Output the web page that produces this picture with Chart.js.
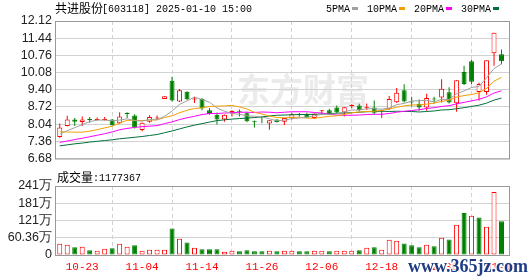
<!DOCTYPE html>
<html>
<head>
<meta charset="utf-8">
<script src="https://cdn.jsdelivr.net/npm/chart.js@4.4.1/dist/chart.umd.min.js"></script>
<style>
  body { margin: 0; background: #fff; }
  #wrap { position: relative; width: 530px; height: 276px; overflow: hidden; }
  canvas { position: absolute; left: 0; }
  #kline { top: 0; }
  #vol { top: 170px; }
</style>
</head>
<body>
<div id="wrap">
  <canvas id="kline" width="530" height="170"></canvas>
  <canvas id="vol" width="530" height="106"></canvas>
</div>
<script>
// 共进股份 daily bars, 2024-10-18 .. 2025-01-10
const dates = ['10-18','10-21','10-22','10-23','10-24','10-25','10-28','10-29','10-30','10-31',
  '11-01','11-04','11-05','11-06','11-07','11-08','11-11','11-12','11-13','11-14',
  '11-15','11-18','11-19','11-20','11-21','11-22','11-25','11-26','11-27','11-28',
  '11-29','12-02','12-03','12-04','12-05','12-06','12-09','12-10','12-11','12-12',
  '12-13','12-16','12-17','12-18','12-19','12-20','12-23','12-24','12-25','12-26',
  '12-27','12-30','12-31','01-02','01-03','01-06','01-07','01-08','01-09','01-10'];

const opens = [7.53,7.97,8.22,8.12,8.23,8.20,8.20,8.22,8.07,8.46,
  8.38,7.81,8.13,8.26,9.03,9.76,8.94,9.32,9.01,9.03,
  8.59,8.41,8.22,8.47,8.53,8.47,8.13,8.33,8.06,8.22,
  8.13,8.28,8.42,8.44,8.28,8.55,8.59,8.70,8.50,8.76,
  8.78,8.67,8.70,8.55,8.63,8.91,9.38,8.92,8.84,8.70,
  9.03,9.09,9.30,8.87,10.10,10.53,9.31,9.31,10.84,10.80];
const highs = [8.06,8.37,8.28,8.34,8.32,8.30,8.32,8.24,8.51,8.51,
  8.43,8.10,8.39,8.38,9.14,9.91,9.43,9.34,9.12,9.07,
  8.68,8.50,8.42,8.59,8.62,8.53,8.18,8.34,8.20,8.23,
  8.28,8.49,8.48,8.49,8.46,8.60,8.65,8.78,8.72,8.83,
  8.85,8.86,8.97,8.62,9.15,9.47,9.62,9.12,9.01,9.24,
  9.12,9.82,9.50,9.78,10.35,10.58,9.68,10.57,11.66,10.99];
const lows = [7.50,7.95,7.97,7.97,8.09,8.18,8.18,7.98,8.05,8.28,
  7.87,7.76,8.09,8.20,9.03,8.94,8.92,8.99,8.88,8.59,
  8.41,8.03,8.13,8.34,8.34,8.11,7.91,8.07,7.82,8.10,
  8.01,8.22,8.33,8.27,8.24,8.40,8.40,8.45,8.34,8.67,
  8.55,8.60,8.42,8.28,8.60,8.88,8.90,8.74,8.57,8.57,
  8.86,8.90,8.86,8.53,9.59,9.63,8.97,9.20,10.35,10.41];
const closes = [7.91,8.22,8.13,8.22,8.20,8.22,8.23,8.00,8.34,8.44,
  7.91,8.09,8.32,8.30,9.14,8.97,9.38,9.02,9.04,8.66,
  8.44,8.22,8.41,8.56,8.51,8.15,8.11,8.30,8.19,8.12,
  8.28,8.43,8.40,8.30,8.45,8.56,8.44,8.50,8.71,8.78,
  8.59,8.69,8.49,8.58,9.03,9.28,8.94,8.90,8.70,9.07,
  9.01,9.44,8.90,9.78,9.63,9.72,9.63,10.57,11.66,10.53];

// moving averages as drawn on the chart
const ma5 = [7.64,7.78,7.90,8.02,8.14,8.20,8.20,8.17,8.20,8.25,
  8.18,8.16,8.22,8.21,8.35,8.56,8.82,8.96,9.11,9.01,
  8.91,8.68,8.55,8.46,8.43,8.37,8.35,8.33,8.25,8.17,
  8.20,8.26,8.28,8.31,8.37,8.43,8.43,8.45,8.53,8.60,
  8.60,8.65,8.65,8.63,8.68,8.81,8.86,8.95,8.97,8.98,
  8.92,9.02,9.02,9.24,9.35,9.49,9.53,9.87,10.24,10.42];
const ma10 = [7.74,7.73,7.72,7.72,7.76,7.82,7.89,7.96,8.08,8.19,
  8.19,8.18,8.20,8.21,8.30,8.37,8.49,8.59,8.66,8.68,
  8.74,8.75,8.76,8.78,8.72,8.64,8.51,8.44,8.36,8.30,
  8.29,8.31,8.31,8.28,8.27,8.31,8.35,8.37,8.42,8.49,
  8.52,8.54,8.55,8.58,8.64,8.71,8.76,8.80,8.80,8.83,
  8.87,8.94,8.99,9.11,9.17,9.21,9.28,9.45,9.74,9.89];
const ma20 = [7.32,7.37,7.43,7.48,7.54,7.60,7.66,7.73,7.82,7.87,
  7.91,7.94,7.96,7.98,8.06,8.13,8.22,8.29,8.35,8.42,
  8.46,8.46,8.48,8.49,8.51,8.51,8.50,8.52,8.51,8.49,
  8.51,8.53,8.53,8.53,8.50,8.48,8.43,8.40,8.39,8.39,
  8.40,8.42,8.43,8.43,8.46,8.51,8.55,8.58,8.61,8.66,
  8.69,8.74,8.77,8.84,8.90,8.96,9.02,9.12,9.27,9.36];
const ma30 = [7.18,7.22,7.26,7.29,7.33,7.36,7.39,7.42,7.46,7.49,
  7.52,7.55,7.59,7.63,7.70,7.77,7.85,7.93,8.00,8.06,
  8.12,8.18,8.21,8.24,8.26,8.28,8.30,8.33,8.36,8.39,
  8.40,8.41,8.42,8.42,8.43,8.44,8.45,8.47,8.48,8.49,
  8.51,8.53,8.54,8.55,8.54,8.55,8.54,8.54,8.52,8.54,
  8.56,8.60,8.61,8.65,8.69,8.74,8.79,8.87,8.99,9.07];

// volume in 万股, and whether the bar is red (up)
const volumes = [39.5,36.0,26.7,29.0,16.3,15.1,22.1,23.2,39.5,29.0,
  33.7,15.1,18.6,18.6,18.6,92.9,56.9,44.1,25.5,19.7,
  19.7,19.7,11.6,15.1,12.8,16.3,12.8,12.8,15.1,12.8,
  15.1,15.1,12.8,12.8,15.1,15.1,12.8,15.1,15.1,15.1,
  16.3,25.5,26.7,18.6,53.4,49.9,40.6,33.7,26.7,36.0,
  30.2,60.4,54.6,105.7,147.4,137.0,131.2,98.7,220.6,117.7];
const volUp = [1,1,0,1,0,1,1,0,1,1, 0,1,1,1,1,0,1,0,1,0,
  0,0,1,1,0,0,0,0,1,0, 1,1,0,0,1,1,0,1,1,1,
  0,1,0,1,1,1,0,0,0,1, 0,1,0,1,0,1,0,1,1,0];

const xLabels = ['10-23','11-04','11-14','11-26','12-06','12-18','12-30','01-10'];
const priceTicks = [6.68,7.36,8.04,8.72,9.40,10.08,10.76,11.44,12.12];
const volTicks = [0,60.36,120.72,181.08,241.44];
const volTickLabels = ['0','60.36万','121万','181万','241万'];

const maNames = ['5PMA','10PMA','20PMA','30PMA'];
const maColors = ['#a0a0a0','#f5a000','#ff00ff','#00703c'];

const RED = '#ff0000';
const GREEN = '#008000';
const GRID = '#d2d2d2';
const TICK_FONT = '12.5px "Liberation Sans"';

const idx = dates.map((d, i) => i);
const isUp = idx.map(i => closes[i] >= opens[i]);

//shared x axis, grid lines only at the labelled days
function xAxis(showLabels) {
  return {
    type: 'linear', min: -0.5, max: 60, offset: false,
    afterBuildTicks: s => { s.ticks = xLabels.map(l => ({ value: dates.indexOf(l) })); },
    afterFit: s => { s.height = showLabels ? 21 : 4; },
    grid: { color: GRID, drawTicks: false },
    border: { display: false, dash: [4, 3] },
    ticks: {
      display: showLabels, autoSkip: false, maxRotation: 0, padding: 5,
      color: RED, font: { family: 'Liberation Mono', size: 11 },
      callback: v => dates[v]
    }
  };
}

function yAxis(min, max, tickVals, label, showLabels) {
  return {
    min: min, max: max,
    afterBuildTicks: s => { s.ticks = tickVals.map(v => ({ value: v })); },
    afterFit: s => { s.width = 56; },
    grid: { color: GRID, drawTicks: false },
    border: { display: false },
    ticks: { display: showLabels, autoSkip: false, padding: 4, color: '#222', font: { family: 'Liberation Sans', size: 12.5 }, callback: label }
  };
}

function drawFrame(chart) {
  const { ctx, chartArea: a } = chart;
  ctx.save();
  ctx.strokeStyle = '#999';
  ctx.lineWidth = 1;
  ctx.strokeRect(a.left - 0.5, a.top + 0.5, a.right - a.left + 1, a.bottom - a.top);
  ctx.restore();
}

const klineDeco = {
  id: 'klineDeco',
  beforeDraw(chart) {
    const ctx = chart.ctx;
    ctx.save();
    ctx.font = 'bold 33px "Noto Sans CJK SC"';
    ctx.fillStyle = '#ebebeb';
    ctx.textBaseline = 'middle';
    ctx.fillText('东方财富', 237, 89);
    ctx.restore();
  },
  afterDraw(chart) {
    const ctx = chart.ctx;
    drawFrame(chart);
    ctx.save();
    ctx.fillStyle = '#000';
    ctx.textBaseline = 'middle';
    ctx.font = '12px "Noto Sans CJK SC"';
    ctx.fillText('共进股份', 55, 8);
    ctx.font = '10px "Liberation Mono"';
    ctx.fillText('[603118] 2025-01-10 15:00', 102, 9);
    // legend
    let x = 326;
    maNames.forEach((name, k) => {
      ctx.fillStyle = '#000';
      ctx.fillText(name, x, 9);
      x += ctx.measureText(name).width + 2;
      ctx.fillStyle = maColors[k];
      ctx.fillRect(x, 7, 6, 3);
      x += 6 + 9;
    });
    ctx.restore();
  }
};

const volDeco = {
  id: 'volDeco',
  afterDraw(chart) {
    const ctx = chart.ctx;
    const ys = chart.scales.y;
    drawFrame(chart);
    ctx.save();
    // volume axis labels, placed through the y scale
    ctx.font = TICK_FONT;
    ctx.fillStyle = '#222';
    ctx.textAlign = 'right';
    ctx.textBaseline = 'middle';
    volTicks.forEach((v, i) => {
      ctx.fillText(volTickLabels[i], ys.left + ys.width - 4, ys.getPixelForValue(v));
    });
    ctx.textAlign = 'left';
    ctx.fillStyle = '#000';
    ctx.font = '12px "Noto Sans CJK SC"';
    ctx.fillText('成交量', 57, 7);
    ctx.font = '10px "Liberation Mono"';
    ctx.fillText(':1177367', 93, 8);
    // site watermark
    ctx.font = 'bold 18px "Liberation Serif"';
    ctx.lineWidth = 3;
    ctx.strokeStyle = 'rgba(255,255,255,0.8)';
    ctx.strokeText('www.365jz.com', 408, 97);
    ctx.fillStyle = '#1d3c84';
    ctx.fillText('www.365jz.com', 408, 97);
    ctx.restore();
  }
};

const maSets = [ma5, ma10, ma20, ma30].map((arr, k) => ({
  type: 'line',
  label: maNames[k],
  data: idx.map(i => ({ x: i, y: arr[i] })),
  borderColor: maColors[k],
  borderWidth: 1,
  pointRadius: 0,
  tension: 0,
  order: 0
}));

new Chart(document.getElementById('kline'), {
  type: 'bar',
  data: {
    datasets: [
      ...maSets,
      {
        label: 'body',
        data: idx.map(i => ({ x: i, y: [opens[i], closes[i]] })),
        barThickness: 5, minBarLength: 1, grouped: false, inflateAmount: 0,
        backgroundColor: idx.map(i => isUp[i] ? '#fff' : GREEN),
        borderColor: idx.map(i => isUp[i] ? RED : GREEN),
        borderWidth: 1, borderSkipped: false,
        order: 1
      },
      {
        label: 'wick',
        data: idx.map(i => ({ x: i, y: [lows[i], highs[i]] })),
        barThickness: 1, grouped: false, inflateAmount: 0,
        backgroundColor: idx.map(i => isUp[i] ? RED : GREEN),
        order: 2
      }
    ]
  },
  options: {
    responsive: false, animation: false,
    layout: { padding: { top: 21, right: 21, bottom: 0, left: 0 } },
    plugins: { legend: { display: false }, tooltip: { enabled: false } },
    scales: {
      x: xAxis(false),
      y: yAxis(6.68, 12.12, priceTicks, v => v.toFixed(2), true)
    }
  },
  plugins: [klineDeco]
});

new Chart(document.getElementById('vol'), {
  type: 'bar',
  data: {
    datasets: [{
      label: 'vol',
      data: idx.map(i => ({ x: i, y: volumes[i] })),
      barThickness: 5, grouped: false, inflateAmount: 0,
      backgroundColor: idx.map(i => volUp[i] ? '#fff' : GREEN),
      borderColor: idx.map(i => volUp[i] ? RED : GREEN),
      borderWidth: 1, borderSkipped: false
    }]
  },
  options: {
    responsive: false, animation: false,
    layout: { padding: { top: 16, right: 21, bottom: 0, left: 0 } },
    plugins: { legend: { display: false }, tooltip: { enabled: false } },
    scales: {
      x: xAxis(true),
      y: yAxis(0, 241.44, volTicks, (v, i) => volTickLabels[i], false)
    }
  },
  plugins: [volDeco]
});
</script>
</body>
</html>
